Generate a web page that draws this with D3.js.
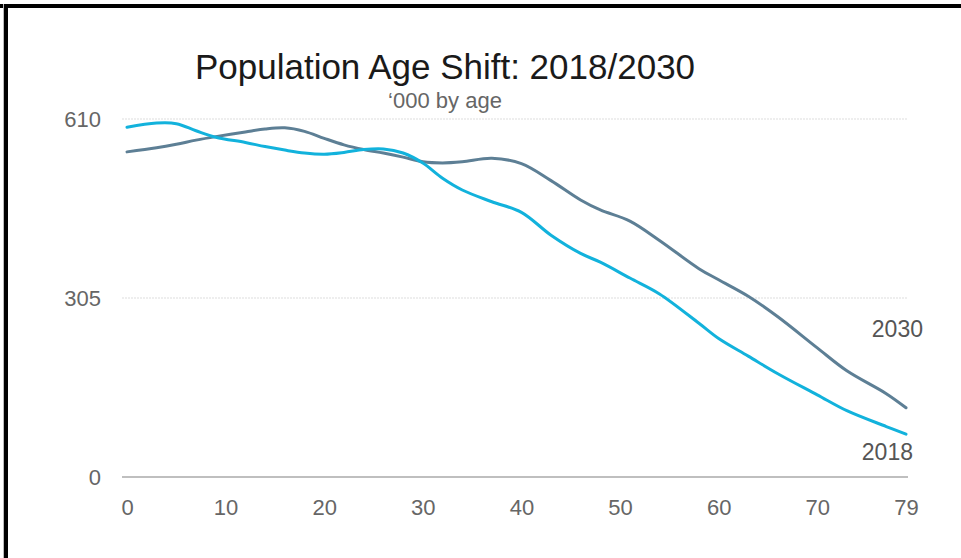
<!DOCTYPE html>
<html>
<head>
<meta charset="utf-8">
<script src="https://cdn.jsdelivr.net/npm/d3@7"></script>
<style>
  html, body { margin: 0; padding: 0; background: #fff; }
  svg { display: block; }
  text { font-family: "Liberation Sans", Arial, sans-serif; }
</style>
</head>
<body>
<svg id="chart" width="961" height="558"></svg>
<script>
// ---- data ----
const ages = [0,3,5,7,9,12,14,16,18,20,22,24,26,28,30,32,34,37,40,43,46,48,51,54,58,60,63,66,70,73,77,79];
const pop2018 = [596,603,602,590,579,570,563,557,552,550,553,558,559,552,535,509,489,469,451,412,381,366,339,312,262,236,206,176,140,113,86,73];
const pop2030 = [554,561,567,574,580,588,593,595,589,577,566,558,552,545,537,535,537,543,534,505,472,455,436,403,355,336,308,273,220,181,142,118];
const xTicks = [0,10,20,30,40,50,60,70,79];
const yTicks = [0,305,610];
const seriesNames = ["2018","2030"];
const titleText = "Population Age Shift: 2018/2030";
const subtitleText = "\u2018000 by age";

// ---- layout ----
const svg = d3.select("#chart");
const x = d3.scaleLinear().domain([0,79]).range([127,906]);
const y = d3.scaleLinear().domain([0,610]).range([477,119]);

// frame (top and left border)
svg.append("rect").attr("x",0).attr("y",4).attr("width",961).attr("height",4).attr("fill","#000");
svg.append("rect").attr("x",3).attr("y",4).attr("width",1).attr("height",554).attr("fill","#bbb");
svg.append("rect").attr("x",4).attr("y",4).attr("width",4).attr("height",554).attr("fill","#000");

// title
svg.append("text").attr("x",445).attr("y",79).attr("text-anchor","middle")
  .attr("font-size",35).attr("fill","#1a1a1a").text(titleText);
svg.append("text").attr("x",445).attr("y",108).attr("text-anchor","middle")
  .attr("font-size",22).attr("fill","#666").text(subtitleText);

// gridlines
svg.append("g").selectAll("line").data(yTicks.filter(d => d > 0)).join("line")
  .attr("x1",122).attr("x2",908)
  .attr("y1",d => y(d)).attr("y2",d => y(d))
  .attr("stroke","#ddd").attr("stroke-width",1).attr("stroke-dasharray","2,1");

// baseline
svg.append("line").attr("x1",122).attr("x2",908).attr("y1",y(0)).attr("y2",y(0))
  .attr("stroke","#aaa").attr("stroke-width",1.5);

// y axis labels
const yAxis = d3.axisLeft(y).tickValues(yTicks).tickSize(0).tickPadding(0);
const gy = svg.append("g").attr("transform","translate(101,0)").call(yAxis);
gy.select(".domain").remove();
gy.selectAll("text").attr("font-size",22).attr("fill","#666")
  .style("font-family","'Liberation Sans', Arial, sans-serif");

// x axis labels
const xAxis = d3.axisBottom(x).tickValues(xTicks).tickSize(0).tickPadding(0).tickFormat(d3.format("d"));
const gx = svg.append("g").attr("transform","translate(0,499)").call(xAxis);
gx.select(".domain").remove();
gx.selectAll("text").attr("font-size",22).attr("fill","#666").attr("dy","0.71em")
  .style("font-family","'Liberation Sans', Arial, sans-serif");

// lines
const line = d3.line().x((d,i) => x(ages[i])).y(d => y(d)).curve(d3.curveCatmullRom.alpha(0.5));
svg.append("path").datum(pop2030).attr("d",line).attr("fill","none")
  .attr("stroke","#5d7f95").attr("stroke-width",3).attr("stroke-linecap","round");
svg.append("path").datum(pop2018).attr("d",line).attr("fill","none")
  .attr("stroke","#12b2dc").attr("stroke-width",3).attr("stroke-linecap","round");

// series labels
svg.append("text").attr("x",923).attr("y",337).attr("text-anchor","end")
  .attr("font-size",23).attr("fill","#555").text(seriesNames[1]);
svg.append("text").attr("x",913).attr("y",460).attr("text-anchor","end")
  .attr("font-size",23).attr("fill","#555").text(seriesNames[0]);
</script>
</body>
</html>
